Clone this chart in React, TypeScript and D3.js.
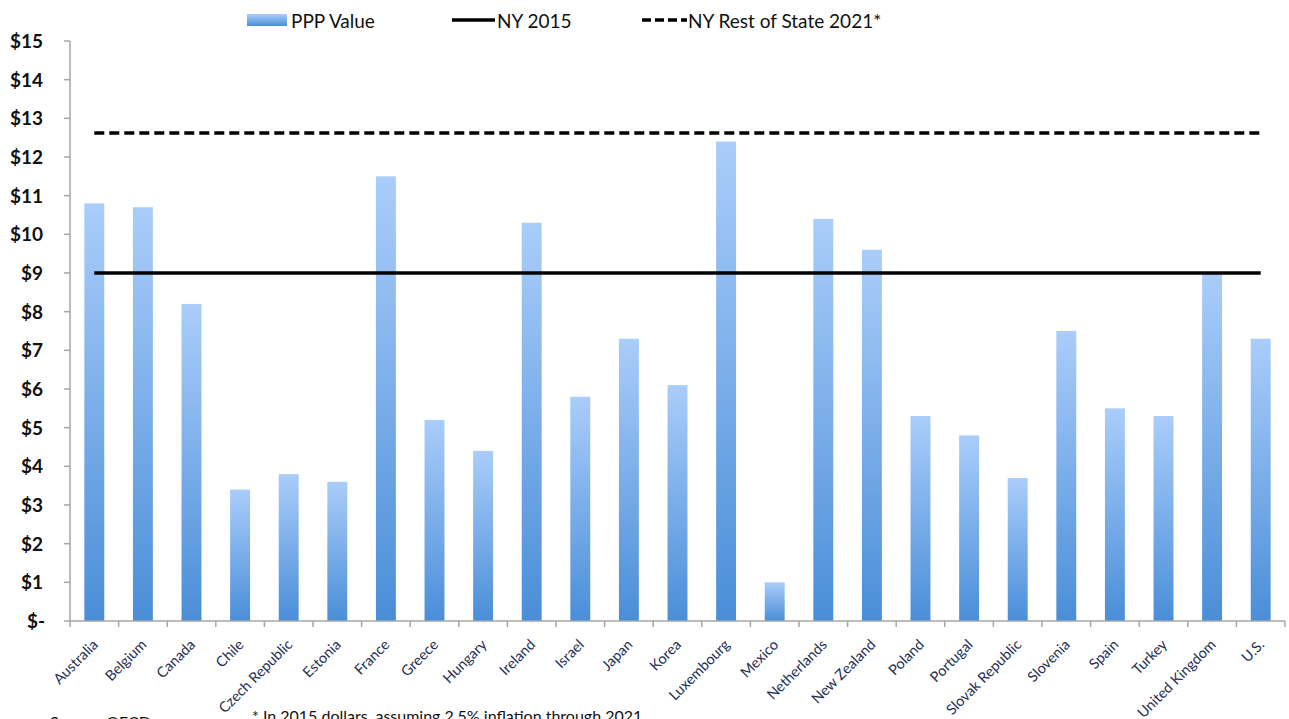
import * as d3 from "d3";
import { useEffect, useRef } from "react";

// ---- data ----
const countries = [
  "Australia", "Belgium", "Canada", "Chile", "Czech Republic", "Estonia", "France",
  "Greece", "Hungary", "Ireland", "Israel", "Japan", "Korea", "Luxembourg", "Mexico",
  "Netherlands", "New Zealand", "Poland", "Portugal", "Slovak Republic", "Slovenia",
  "Spain", "Turkey", "United Kingdom", "U.S.",
];
const pppValues = [
  10.8, 10.7, 8.2, 3.4, 3.8, 3.6, 11.5, 5.2, 4.4, 10.3, 5.8, 7.3, 6.1, 12.4, 1.0,
  10.4, 9.6, 5.3, 4.8, 3.7, 7.5, 5.5, 5.3, 9.0, 7.3,
];
const ny2015 = 9;
const nyRest2021 = 12.62;
const yTicks = [0, 1, 2, 3, 4, 5, 6, 7, 8, 9, 10, 11, 12, 13, 14, 15];
const legendLabels = ["PPP Value", "NY 2015", "NY Rest of State 2021*"];
const notes = ["Source: OECD", "* In 2015 dollars, assuming 2.5% inflation through 2021"];

export default function App() {
  const ref = useRef<SVGSVGElement | null>(null);

  useEffect(() => {
    const width = 1289;
    const height = 719;
    const left = 70;
    const right = 1285;
    const top = 41;
    const bottom = 621;
    const font = "Lato, 'Open Sans', sans-serif";
    const axisColor = "#a6a6a6";

    const svg = d3.select(ref.current);
    svg.selectAll("*").remove();
    svg.attr("viewBox", `0 0 ${width} ${height}`);

    // 漸層：上淺下深
    const grad = svg.append("defs").append("linearGradient")
      .attr("id", "barGrad").attr("x1", 0).attr("y1", 0).attr("x2", 0).attr("y2", 1);
    grad.append("stop").attr("offset", "0%").attr("stop-color", "#aacdfa");
    grad.append("stop").attr("offset", "100%").attr("stop-color", "#4a8ed8");

    const pad = 0.59;
    const x = d3.scaleBand<string>().domain(countries).range([left, right])
      .paddingInner(pad).paddingOuter(pad / 2);
    const y = d3.scaleLinear().domain([0, 15]).range([bottom, top]);
    const cx = (c: string) => (x(c) ?? 0) + x.bandwidth() / 2;

    // ---- y axis ----
    svg.append("line").attr("x1", left).attr("x2", left).attr("y1", top).attr("y2", bottom)
      .attr("stroke", axisColor).attr("stroke-width", 1.5);
    svg.append("g").selectAll("line").data(yTicks).join("line")
      .attr("x1", left - 6).attr("x2", left).attr("y1", d => y(d)).attr("y2", d => y(d))
      .attr("stroke", axisColor).attr("stroke-width", 1.5);
    svg.append("g").selectAll("text").data(yTicks).join("text")
      .attr("x", d => (d === 0 ? left - 43 : left - 27))
      .attr("y", d => y(d)).attr("dy", "0.36em")
      .attr("text-anchor", d => (d === 0 ? "start" : "end"))
      .attr("font-family", font).attr("font-size", 19).attr("font-weight", 700)
      .attr("fill", "#111")
      .text(d => (d === 0 ? "$-" : `$${d}`));

    // ---- bars ----
    svg.append("g").selectAll("rect").data(pppValues).join("rect")
      .attr("x", (_, i) => x(countries[i]) ?? 0)
      .attr("y", d => y(d))
      .attr("width", x.bandwidth())
      .attr("height", d => bottom - y(d))
      .attr("fill", "url(#barGrad)");

    // ---- x axis ----
    svg.append("line").attr("x1", left).attr("x2", right).attr("y1", bottom).attr("y2", bottom)
      .attr("stroke", axisColor).attr("stroke-width", 1.5);
    const step = x.step();
    svg.append("g").selectAll("line").data(d3.range(countries.length + 1)).join("line")
      .attr("x1", i => left + i * step).attr("x2", i => left + i * step)
      .attr("y1", bottom).attr("y2", bottom + 6)
      .attr("stroke", axisColor).attr("stroke-width", 1.5);
    svg.append("g").selectAll("text").data(countries).join("text")
      .attr("transform", d => `translate(${cx(d) + 1},${bottom + 21}) rotate(-45)`)
      .attr("text-anchor", "end").attr("dy", "0.35em")
      .attr("font-family", font).attr("font-size", 14.5).attr("fill", "#243055")
      .text(d => d);

    // ---- reference lines ----
    const first = cx(countries[0]);
    const last = cx(countries[countries.length - 1]);
    svg.append("line").attr("x1", first).attr("x2", last)
      .attr("y1", y(ny2015)).attr("y2", y(ny2015))
      .attr("stroke", "#000").attr("stroke-width", 3.5);
    svg.append("line").attr("x1", first).attr("x2", last)
      .attr("y1", y(nyRest2021)).attr("y2", y(nyRest2021))
      .attr("stroke", "#000").attr("stroke-width", 3.5).attr("stroke-dasharray", "10,5");

    // ---- legend ----
    const lg = svg.append("g").attr("font-family", font).attr("font-size", 19).attr("fill", "#111");
    lg.append("rect").attr("x", 247).attr("y", 14).attr("width", 40).attr("height", 12)
      .attr("fill", "url(#barGrad)");
    lg.append("text").attr("x", 291).attr("y", 28).text(legendLabels[0]);
    lg.append("line").attr("x1", 452).attr("x2", 495).attr("y1", 20).attr("y2", 20)
      .attr("stroke", "#000").attr("stroke-width", 3.5);
    lg.append("text").attr("x", 497).attr("y", 28).text(legendLabels[1]);
    lg.append("line").attr("x1", 642).attr("x2", 687).attr("y1", 20).attr("y2", 20)
      .attr("stroke", "#000").attr("stroke-width", 3.5).attr("stroke-dasharray", "9,4");
    lg.append("text").attr("x", 688).attr("y", 28).text(legendLabels[2]);

    // ---- notes ----
    svg.append("text").attr("x", 50).attr("y", 728).attr("font-family", font)
      .attr("font-size", 16).attr("fill", "#111").text(notes[0]);
    svg.append("text").attr("x", 252).attr("y", 722).attr("font-family", font)
      .attr("font-size", 16).attr("fill", "#111").text(notes[1]);
  }, []);

  return (
    <svg
      ref={ref}
      width={1289}
      height={719}
      style={{ position: "absolute", left: 0, top: 0, background: "#fff" }}
    />
  );
}
